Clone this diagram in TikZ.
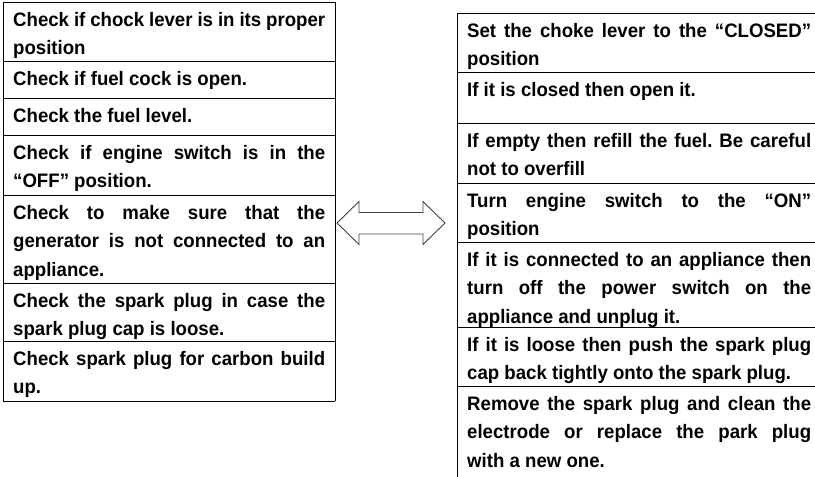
\documentclass[tikz,border=0pt]{standalone}
\usepackage{fontspec}
\setmainfont{Liberation Sans}[FakeStretch=0.955]
\newcommand{\jline}[2][312pt]{\makebox[#1][s]{\spaceskip=0pt\xspaceskip=0pt\relax #2}}
\tikzset{
  cell/.style={anchor=north west, inner sep=0pt, align=justify,
    font=\fontsize{19.5}{28.5}\selectfont\bfseries\frenchspacing},
  checkcell/.style={cell, text width=312pt},
  fixcell/.style={cell, text width=344pt},
  rule/.style={line width=1pt}
}
\begin{document}
\begin{tikzpicture}[x=1pt,y=-1pt]
                \useasboundingbox (0,0) rectangle (815,477);
                
                % Drawing left table (checks)
                \draw [rule] (3,2) -- (3,401);%
                \draw [rule] (335,2) -- (335,401);%
                \foreach \y in {2,61,98,135,195,283,341,401}
                  \draw [rule] (3,\y) -- (335,\y);%
                
                % Drawing right table (remedies)
                \draw [rule] (457,13) -- (457,477);%
                \foreach \y in {13,72,123,183,242,327,386}
                  \draw [rule] (457,\y) -- (815,\y);%
                
                % Check texts
                \node [checkcell] (chkchoke) at (13,6) {\strut\jline{Check if chock lever is in its proper}\\position};%
                \node [checkcell] (chkcock) at (13,65) {\strut Check if fuel cock is open.};%
                \node [checkcell] (chklevel) at (13,102) {\strut Check the fuel level.};%
                \node [checkcell] (chkswitch) at (13,139) {\strut\jline{Check if engine switch is in the}\\“OFF” position.};%
                \node [checkcell] (chkconn) at (13,199) {\strut\jline{Check to make sure that the}\\\jline{generator is not connected to an}\\appliance.};%
                \node [checkcell] (chkcap) at (13,287) {\strut\jline{Check the spark plug in case the}\\spark plug cap is loose.};%
                \node [checkcell] (chkcarbon) at (13,345) {\strut\jline{Check spark plug for carbon build}\\up.};%
                
                % Remedy texts
                \node [fixcell] (setchoke) at (467,17) {\strut\jline[344pt]{Set the choke lever to the “CLOSED”}\\position};%
                \node [fixcell] (opencock) at (467,76) {\strut If it is closed then open it.};%
                \node [fixcell] (refill) at (467,127) {\strut\jline[344pt]{If empty then refill the fuel. Be careful}\\not to overfill};%
                \node [fixcell] (turnon) at (467,187) {\strut\jline[344pt]{Turn engine switch to the “ON”}\\position};%
                \node [fixcell] (unplug) at (467,246) {\strut\jline[344pt]{If it is connected to an appliance then}\\\jline[344pt]{turn off the power switch on the}\\appliance and unplug it.};%
                \node [fixcell] (pushcap) at (467,331) {\strut\jline[344pt]{If it is loose then push the spark plug}\\cap back tightly onto the spark plug.};%
                \node [fixcell] (clean) at (467,390) {\strut\jline[344pt]{Remove the spark plug and clean the}\\\jline[344pt]{electrode or replace the park plug}\\with a new one.};%
                
                % Drawing double arrow
                \draw [line width=0.9pt, black!75, line join=miter]
                  (337,223) -- (359,201.5) -- (359,212.5) -- (423,212.5) -- (423,201.5)
                  -- (445,223) -- (423,244.5) -- (423,234) -- (359,234) -- (359,244.5) -- cycle;%
\end{tikzpicture}
\end{document}
